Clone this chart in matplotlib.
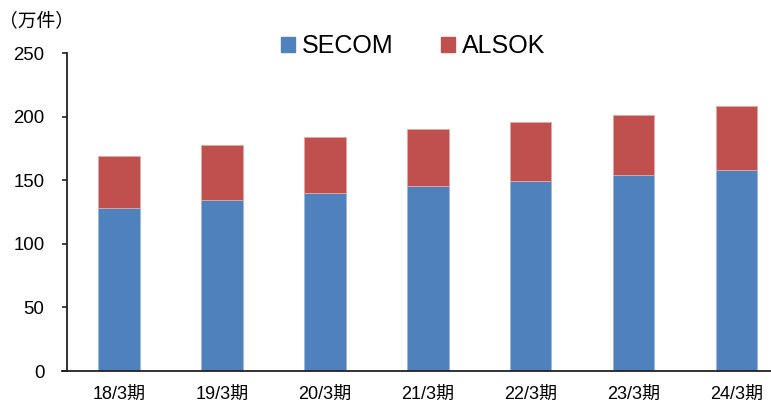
import matplotlib
matplotlib.use("Agg")
import matplotlib.pyplot as plt
from matplotlib.patches import Patch

# categories and values (万件)
periods = ["18/3期", "19/3期", "20/3期", "21/3期", "22/3期", "23/3期", "24/3期"]
secom = [128.3, 134.8, 140.1, 145.5, 149.9, 154.3, 158.5]
alsok = [41.3, 43.0, 44.2, 45.1, 46.3, 47.6, 49.8]
yticks = [0, 50, 100, 150, 200, 250]

BLUE = "#4F81BD"
RED = "#C0504D"
fonts = ["Liberation Sans", "Noto Sans CJK JP", "DejaVu Sans"]
plt.rcParams["font.family"] = fonts

fig = plt.figure(figsize=(7.71, 4.03), dpi=100)
ax = fig.add_axes([0.0875, 0.0794, 0.935, 0.788])

x = list(range(len(periods)))
ax.bar(x, secom, width=0.4, color=BLUE, edgecolor="#9db7dc", linewidth=0.6)
ax.bar(x, alsok, width=0.4, bottom=secom, color=RED, edgecolor="#e3a9a7", linewidth=0.6)

ax.set_xlim(-0.5, 6.5)
ax.set_ylim(0, 250)
ax.set_yticks(yticks)
ax.set_xticks(x)
ax.set_xticklabels(periods, fontsize=13)
ax.tick_params(axis="x", length=0, pad=11)
ax.tick_params(axis="y", length=3.6, width=1.2, pad=13, labelsize=13.4, direction="out")
for lab in ax.get_yticklabels():
    lab.set_family(fonts)

for s in ["top", "right"]:
    ax.spines[s].set_visible(False)
for s in ["left", "bottom"]:
    ax.spines[s].set_linewidth(1.3)
    ax.spines[s].set_color("#222222")
ax.tick_params(colors="#222222", labelcolor="black")

# x axis line pokes out to the left like the 0 tick
ax.plot([-0.555, -0.5], [0, 0], color="#222222", lw=1.3, clip_on=False)

fig.text(0.047, 0.948, "（万件）", fontsize=13.5, ha="center", va="center",
         family=["Noto Sans CJK JP", "DejaVu Sans"])

handles = [Patch(color=BLUE, label="SECOM"), Patch(color=RED, label="ALSOK")]
fig.legend(handles=handles, loc="center", bbox_to_anchor=(0.536, 0.886), ncol=2,
           frameon=False, fontsize=18, handlelength=0.55, handleheight=0.55,
           handletextpad=0.3, columnspacing=1.9)

fig.savefig("out.png", dpi=100)
